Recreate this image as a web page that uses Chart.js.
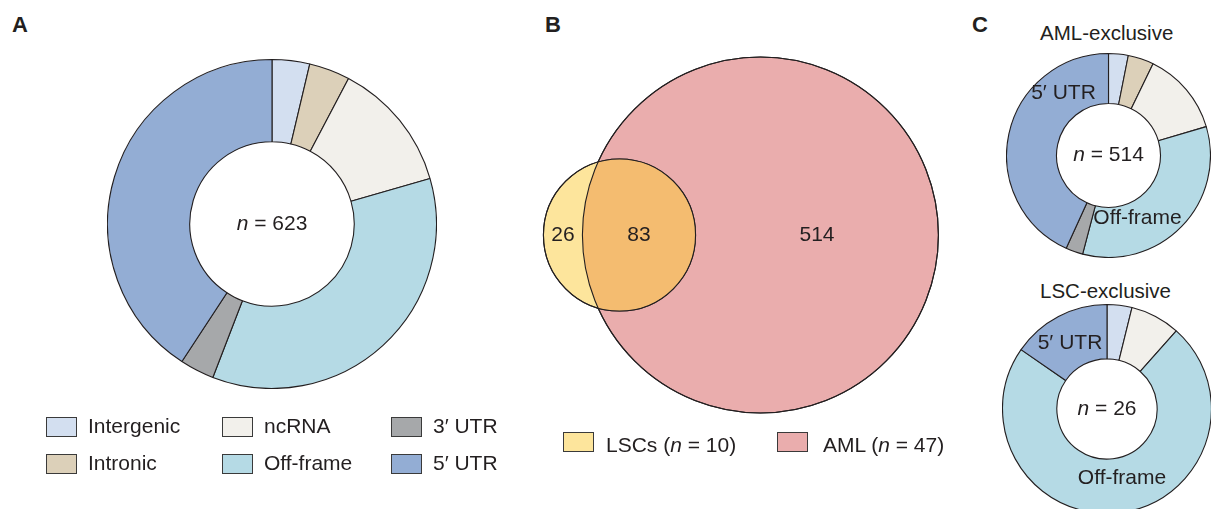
<!DOCTYPE html>
<html>
<head>
<meta charset="utf-8">
<script src="https://cdn.jsdelivr.net/npm/chart.js@4.4.1/dist/chart.umd.min.js"></script>
<style>
  html, body { margin: 0; padding: 0; background: #fff; overflow: hidden; }
  #fig { position: relative; width: 1211px; height: 509px; overflow: hidden;
         font-family: 'Liberation Sans', Arial, sans-serif; color: #231f20; }
  #fig canvas { position: absolute; }
  .panel { position: absolute; font-weight: bold; font-size: 22px; line-height: 22px; }
  .txt { position: absolute; font-size: 21px; line-height: 21px; white-space: nowrap; }
  .box { position: absolute; width: 29px; height: 18px; border: 1.5px solid #3a3a3a; }
</style>
</head>
<body>
<div id="fig">
  <div class="panel" style="left:12px;top:14px">A</div>
  <div class="panel" style="left:545px;top:14px">B</div>
  <div class="panel" style="left:972px;top:14px">C</div>

  <canvas id="donutAll" width="330" height="330" style="left:107px;top:59px"></canvas>
  <canvas id="venn" width="430" height="380" style="left:530px;top:45px"></canvas>
  <canvas id="donutAml" width="205" height="205" style="left:1006px;top:53px"></canvas>
  <canvas id="donutLsc" width="210" height="210" style="left:1002px;top:304px"></canvas>

  <div class="txt" style="left:1040px;top:22px;font-size:20.5px">AML-exclusive</div>
  <div class="txt" style="left:1040px;top:280px;font-size:20.5px">LSC-exclusive</div>
  <div id="legendA"></div>
  <div id="legendB"></div>
</div>

<script>
const FONT = "'Liberation Sans', Arial, sans-serif";

// —––– Datos ––––
const categories   = ['Intergenic', 'Intronic', 'ncRNA', 'Off-frame', '3′ UTR', '5′ UTR'];
const allCounts    = [23, 25, 80, 220, 21, 254];   // n = 623
const amlExclusive = [16, 21, 68, 173, 14, 222];   // n = 514
const lscExclusive = [1, 0, 2, 19, 0, 4];          // n = 26

const vennSets    = ['LSCs', 'AML'];
const vennSamples = [10, 47];
const lscOnly = 26, shared = 83, amlOnly = 514;

// —––– Estilos ––––
const catColors  = ['#d3dff0', '#dcd0b9', '#f2f0eb', '#b5dae5', '#a6a8aa', '#93add4'];
const vennColors = ['#fde59c', '#eaadad'];
const overlapColor = '#f4bc70';
const ink = '#231f20';

const sum = a => a.reduce((s, v) => s + v, 0);

function drawN(ctx, x, y, total) {
  ctx.save();
  ctx.fillStyle = ink;
  ctx.textBaseline = 'middle';
  ctx.textAlign = 'left';
  ctx.font = `italic 21px ${FONT}`;
  const w1 = ctx.measureText('n').width;
  const rest = ' = ' + total;
  ctx.font = `21px ${FONT}`;
  const w2 = ctx.measureText(rest).width;
  const x0 = x - (w1 + w2) / 2;
  ctx.font = `italic 21px ${FONT}`;
  ctx.fillText('n', x0, y);
  ctx.font = `21px ${FONT}`;
  ctx.fillText(rest, x0 + w1, y);
  ctx.restore();
}

// labels: [text, dx, dy] relative to donut centre
function donut(id, counts, cutout, labels) {
  return new Chart(document.getElementById(id), {
    type: 'doughnut',
    data: {
      labels: categories,
      datasets: [{ data: counts, backgroundColor: catColors, borderColor: ink, borderWidth: 1.1 }]
    },
    options: {
      responsive: false, animation: false, events: [], cutout,
      layout: { padding: 0 },
      plugins: { legend: { display: false }, tooltip: { enabled: false } }
    },
    plugins: [{
      id: 'centerText',
      afterDatasetsDraw(chart) {
        const arc = chart.getDatasetMeta(0).data[0];
        const ctx = chart.ctx;
        drawN(ctx, arc.x, arc.y, sum(counts));
        ctx.save();
        ctx.fillStyle = ink;
        ctx.font = `21px ${FONT}`;
        ctx.textAlign = 'center';
        ctx.textBaseline = 'middle';
        (labels || []).forEach(([t, dx, dy]) => ctx.fillText(t, arc.x + dx, arc.y + dy));
        ctx.restore();
      }
    }]
  });
}

donut('donutAll', allCounts, '50%');
donut('donutAml', amlExclusive, '51%', [['5′ UTR', -45, -62], ['Off-frame', 29, 63]]);
donut('donutLsc', lscExclusive, '48%', [['5′ UTR', -37, -66], ['Off-frame', 15, 69]]);

// —––– Venn (área proporcional) ––––
function lensArea(r1, r2, d) {
  if (d >= r1 + r2) return 0;
  if (d <= Math.abs(r2 - r1)) return Math.PI * Math.min(r1, r2) ** 2;
  const a = r1 * r1 * Math.acos((d * d + r1 * r1 - r2 * r2) / (2 * d * r1));
  const b = r2 * r2 * Math.acos((d * d + r2 * r2 - r1 * r1) / (2 * d * r2));
  const c = 0.5 * Math.sqrt((-d + r1 + r2) * (d + r1 - r2) * (d - r1 + r2) * (d + r1 + r2));
  return a + b - c;
}
const rLsc = Math.sqrt((lscOnly + shared) / Math.PI);
const rAml = Math.sqrt((amlOnly + shared) / Math.PI);
let lo = Math.abs(rAml - rLsc), hi = rAml + rLsc;
for (let i = 0; i < 60; i++) {
  const mid = (lo + hi) / 2;
  if (lensArea(rLsc, rAml, mid) > shared) lo = mid; else hi = mid;
}
const dist = (lo + hi) / 2;
const vennRadii = [rLsc, rAml];

const radiusPx = (chart, r) => {
  const s = chart.scales.x;
  return s.getPixelForValue(r) - s.getPixelForValue(0);
};

new Chart(document.getElementById('venn'), {
  type: 'scatter',
  data: {
    datasets: vennSets.map((name, i) => ({
      label: name,
      data: [{ x: i === 0 ? 0 : dist, y: 0 }],
      pointRadius: c => radiusPx(c.chart, vennRadii[i]),
      pointBackgroundColor: vennColors[i],
      pointBorderColor: ink,
      pointBorderWidth: 1.1,
      clip: false
    }))
  },
  options: {
    responsive: false, animation: false, events: [],
    layout: { padding: 0 },
    scales: {
      x: { type: 'linear', min: -6.93, max: 26.37, display: false },
      y: { type: 'linear', min: -14.71, max: 14.71, display: false }
    },
    plugins: { legend: { display: false }, tooltip: { enabled: false } }
  },
  plugins: [{
    id: 'overlap',
    afterDatasetsDraw(chart) {
      const ctx = chart.ctx;
      const L = chart.getDatasetMeta(0).data[0], A = chart.getDatasetMeta(1).data[0];
      const rl = radiusPx(chart, rLsc), ra = radiusPx(chart, rAml);
      ctx.save();
      ctx.beginPath(); ctx.arc(A.x, A.y, ra, 0, Math.PI * 2); ctx.clip();
      ctx.beginPath(); ctx.arc(L.x, L.y, rl, 0, Math.PI * 2);
      ctx.fillStyle = overlapColor; ctx.fill();
      ctx.restore();
      ctx.save();
      ctx.strokeStyle = ink; ctx.lineWidth = 1.1;
      ctx.beginPath(); ctx.arc(A.x, A.y, ra, 0, Math.PI * 2); ctx.stroke();
      ctx.beginPath(); ctx.arc(L.x, L.y, rl, 0, Math.PI * 2); ctx.stroke();
      ctx.fillStyle = ink; ctx.font = `21px ${FONT}`;
      ctx.textAlign = 'center'; ctx.textBaseline = 'middle';
      ctx.fillText(String(lscOnly), ((L.x - rl) + (A.x - ra)) / 2, L.y);
      ctx.fillText(String(shared), ((A.x - ra) + (L.x + rl)) / 2, L.y);
      ctx.fillText(String(amlOnly), ((L.x + rl) + (A.x + ra)) / 2, A.y);
      ctx.restore();
    }
  }]
});

// —––– Leyendas ––––
const legA = document.getElementById('legendA');
const colBox = [46, 222, 391], colTxt = [88, 264, 433], rowTop = [417, 454];
categories.forEach((c, i) => {
  const col = Math.floor(i / 2), row = i % 2;
  legA.insertAdjacentHTML('beforeend',
    `<div class="box" style="left:${colBox[col]}px;top:${rowTop[row]}px;background:${catColors[i]}"></div>
     <div class="txt" style="left:${colTxt[col]}px;top:${rowTop[row] - 2}px">${c}</div>`);
});

const legB = document.getElementById('legendB');
const bBox = [563, 777], bTxt = [606, 823];
vennSets.forEach((s, i) => {
  legB.insertAdjacentHTML('beforeend',
    `<div class="box" style="left:${bBox[i]}px;top:432px;background:${vennColors[i]}"></div>
     <div class="txt" style="left:${bTxt[i]}px;top:433.5px">${s} (<i>n</i> = ${vennSamples[i]})</div>`);
});
</script>
</body>
</html>
